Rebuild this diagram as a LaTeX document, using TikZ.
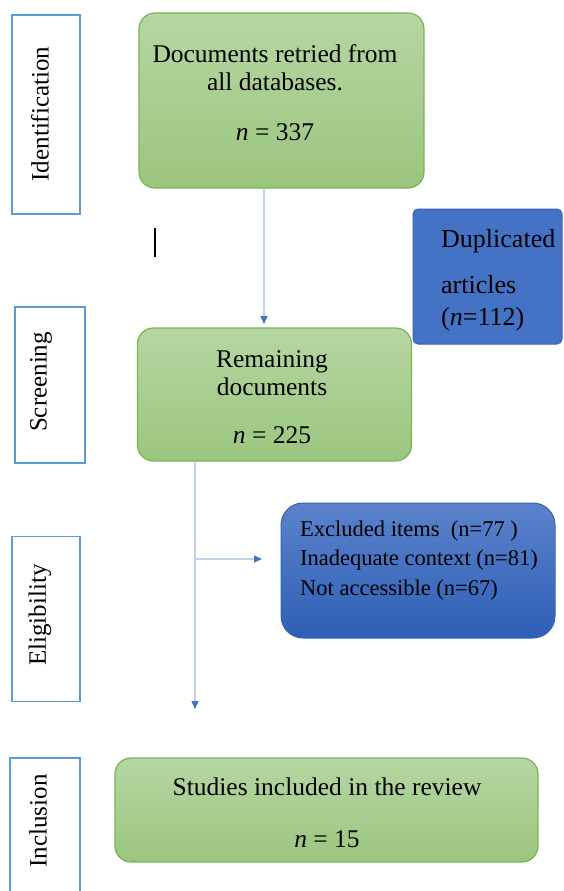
\documentclass[tikz,border=0pt]{standalone}
\usepackage{fontspec}
\setmainfont{Liberation Serif}
\usetikzlibrary{arrows.meta}
\definecolor{gtop}{HTML}{B5D6A2}
\definecolor{gbot}{HTML}{9BC67E}
\definecolor{gedge}{HTML}{78B356}
\definecolor{bfill}{HTML}{4472C4}
\definecolor{bedge}{HTML}{3A63AE}
\definecolor{btop}{HTML}{5B83CC}
\definecolor{bbot}{HTML}{2E5EB5}
\definecolor{lbedge}{HTML}{5B9BD5}
\definecolor{lineblue}{HTML}{C3D3EE}
\definecolor{tipblue}{HTML}{4472C4}
\tikzset{
  greenbox/.style={draw=gedge, line width=1.2pt, rounded corners=16pt, top color=gtop, bottom color=gbot, inner sep=0pt},
  dupbox/.style={draw=bedge, line width=1pt, rounded corners=5pt, fill=bfill, inner sep=0pt},
  bluebox/.style={draw=bedge, line width=1pt, rounded corners=22pt, top color=btop, bottom color=bbot, inner sep=0pt},
  labelbox/.style={draw=lbedge, line width=1.3pt, fill=white, inner sep=0pt},
  labeltxt/.style={rotate=90, font=\fontsize{25}{29}\selectfont, inner sep=0pt},
  bodytxt/.style={font=\fontsize{25.5}{29}\selectfont, inner sep=0pt, anchor=base},
  duptxt/.style={font=\fontsize{26}{30}\selectfont, inner sep=0pt, anchor=base west},
  exctxt/.style={font=\fontsize{22.5}{26}\selectfont, inner sep=0pt, anchor=base west},
  arr/.style={draw=lineblue, line width=1.3pt, -{Triangle[width=7pt,length=8pt,color=tipblue]}}
}
\begin{document}
\begin{tikzpicture}[x=1pt,y=-1pt]
\useasboundingbox (0,0) rectangle (563,891);
% stage label boxes
\node[labelbox, minimum width=68pt, minimum height=199pt] (idbox) at (46,114.5) {};
\node[labeltxt] (idtxt) at (40,114) {Identification};
\node[labelbox, minimum width=70pt, minimum height=156pt] (scbox) at (50,385) {};
\node[labeltxt] (sctxt) at (41,382) {Screening};
\node[labelbox, minimum width=68pt, minimum height=165pt] (elbox) at (46,619) {};
\node[labeltxt] (eltxt) at (40,615) {Eligibility};
\draw[labelbox] (10,892) |- (80,758) -- (80,892);
\node[labeltxt] (intxt) at (38,821) {Inclusion};
% green boxes
\node[greenbox, minimum width=285pt, minimum height=175pt] (g1) at (281.5,100.5) {};
\node[bodytxt] (g1a) at (275,63) {Documents retried from};
\node[bodytxt] (g1b) at (275,90) {all databases.};
\node[bodytxt] (g1c) at (275,140) {\textit{n} = 337};
\node[greenbox, minimum width=274pt, minimum height=133pt] (g2) at (274.5,394.5) {};
\node[bodytxt] (g2a) at (272,367) {Remaining};
\node[bodytxt] (g2b) at (272,395) {documents};
\node[bodytxt] (g2c) at (272,443) {\textit{n} = 225};
\node[greenbox, minimum width=423pt, minimum height=104pt] (g3) at (326.5,810) {};
\node[bodytxt] (g3a) at (327,795) {Studies included in the review};
\node[bodytxt] (g3b) at (327,847) {\textit{n} = 15};
% duplicated box
\node[dupbox, minimum width=149pt, minimum height=135pt] (dup) at (487.5,276.5) {};
\node[duptxt] (dupa) at (441,247) {Duplicated};
\node[duptxt] (dupb) at (441,293) {articles};
\node[duptxt] (dupc) at (441,325) {(\textit{n}=112)};
% excluded box
\node[bluebox, minimum width=274pt, minimum height=135pt] (b2) at (418,570.5) {};
\node[exctxt] (b2a) at (300,536) {Excluded items\ \ (n=77 )};
\node[exctxt] (b2b) at (300,565) {Inadequate context (n=81)};
\node[exctxt] (b2c) at (300,595) {Not accessible (n=67)};
% small black bar
\coordinate (bart) at (155,228);
\coordinate (barb) at (155,257);
\draw[black, line width=1.3pt] (bart) -- (barb);
% connectors
\coordinate (a1s) at (g1.south -| 264,0);
\coordinate (a1e) at (264,324);
\draw[arr] (a1s) -- (a1e);
\coordinate (a2s) at (g2.south -| 195,0);
\coordinate (a2e) at (195,709);
\coordinate (br) at (195,559);
\coordinate (bre) at (262,559);
\draw[arr] (a2s) -- (a2e);
\draw[arr] (br) -- (bre);
\end{tikzpicture}
\end{document}
